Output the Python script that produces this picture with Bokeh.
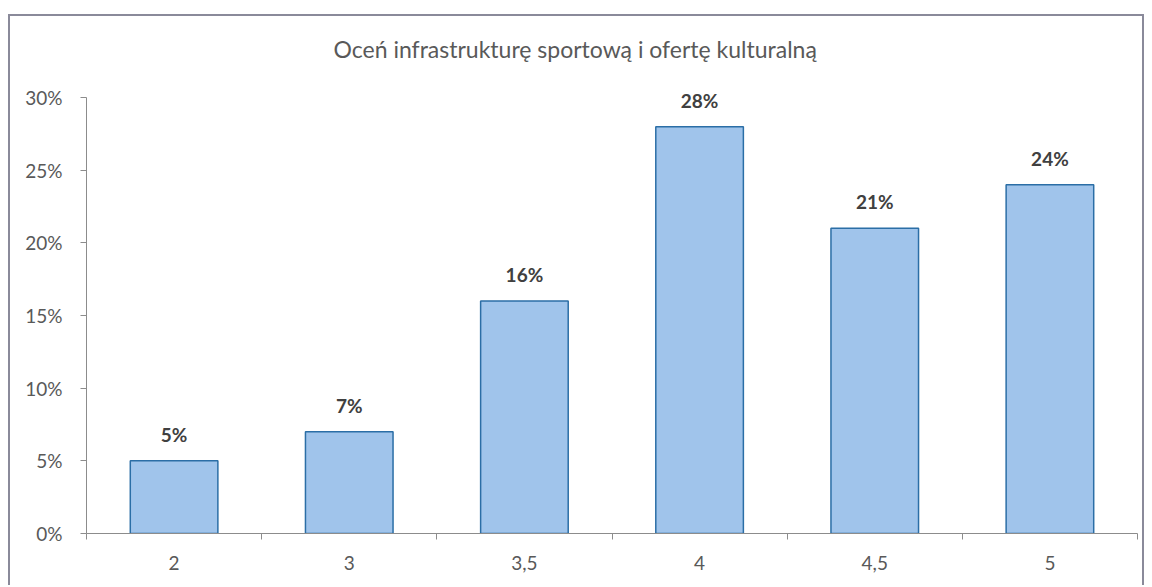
from bokeh.plotting import figure
from bokeh.models import ColumnDataSource, Range1d, FixedTicker, NumeralTickFormatter, Title, LabelSet
from bokeh.core.properties import value
from bokeh.embed import file_html
from bokeh.resources import INLINE

categories = ["2", "3", "3,5", "4", "4,5", "5"]
shares = [0.05, 0.07, 0.16, 0.28, 0.21, 0.24]
labels = ["5%", "7%", "16%", "28%", "21%", "24%"]
y_ticks = [0, 0.05, 0.10, 0.15, 0.20, 0.25, 0.30]
title_text = "Oceń infrastrukturę sportową i ofertę kulturalną"

FONT = "Lato"
GRAY = "#595959"

centers = [i + 0.5 for i in range(len(categories))]
edges = list(range(len(categories) + 1))
src = ColumnDataSource(dict(x=centers, top=shares, lab=labels))

p = figure(width=1136, height=571, output_backend="svg", toolbar_location=None,
           x_range=Range1d(0, len(categories)), y_range=Range1d(0, 0.32),
           min_border_left=76, min_border_right=9, min_border_top=52, min_border_bottom=54,
           styles={"border-top": "2px solid #8a8a9a", "border-left": "2px solid #8a8a9a",
                   "border-right": "2px solid #8a8a9a", "margin-top": "14px",
                   "margin-left": "8px"})
p.outline_line_color = None
p.xgrid.grid_line_color = None
p.ygrid.grid_line_color = None

t = Title(text=title_text, align="left", text_font=FONT, text_font_size="23px",
          text_font_style="normal", text_color=GRAY, standoff=12, offset=247)
p.add_layout(t, "above")

p.vbar(x="x", top="top", bottom=0, width=0.5, source=src,
       fill_color="#a0c4eb", line_color="#2b6ea6", line_width=1.5)

p.add_layout(LabelSet(x="x", y="top", text="lab", source=src, text_align="center",
                      text_baseline="bottom", y_offset=15, text_font=value(FONT),
                      text_font_size="19px", text_font_style="bold", text_color="#404040"))

xa = p.xaxis[0]
xa.ticker = FixedTicker(ticks=centers, minor_ticks=edges)
xa.major_label_overrides = {c: lab for c, lab in zip(centers, categories)}
xa.major_tick_out = 0
xa.major_tick_in = 0
xa.minor_tick_out = 6
xa.minor_tick_in = 0
xa.minor_tick_line_color = "#8c8c8c"
xa.axis_line_color = "#8c8c8c"
xa.major_label_standoff = 16
xa.major_label_text_font = FONT
xa.major_label_text_font_size = "19px"
xa.major_label_text_color = GRAY

ya = p.yaxis[0]
ya.ticker = FixedTicker(ticks=y_ticks)
ya.bounds = (y_ticks[0], y_ticks[-1])
ya.formatter = NumeralTickFormatter(format="0%")
ya.major_tick_out = 6
ya.major_tick_in = 0
ya.minor_tick_out = 0
ya.minor_tick_in = 0
ya.major_tick_line_color = "#8c8c8c"
ya.axis_line_color = "#8c8c8c"
ya.major_label_standoff = 18
ya.major_label_text_font = FONT
ya.major_label_text_font_size = "19px"
ya.major_label_text_color = GRAY

open("out.html", "w").write(file_html(p, INLINE))
